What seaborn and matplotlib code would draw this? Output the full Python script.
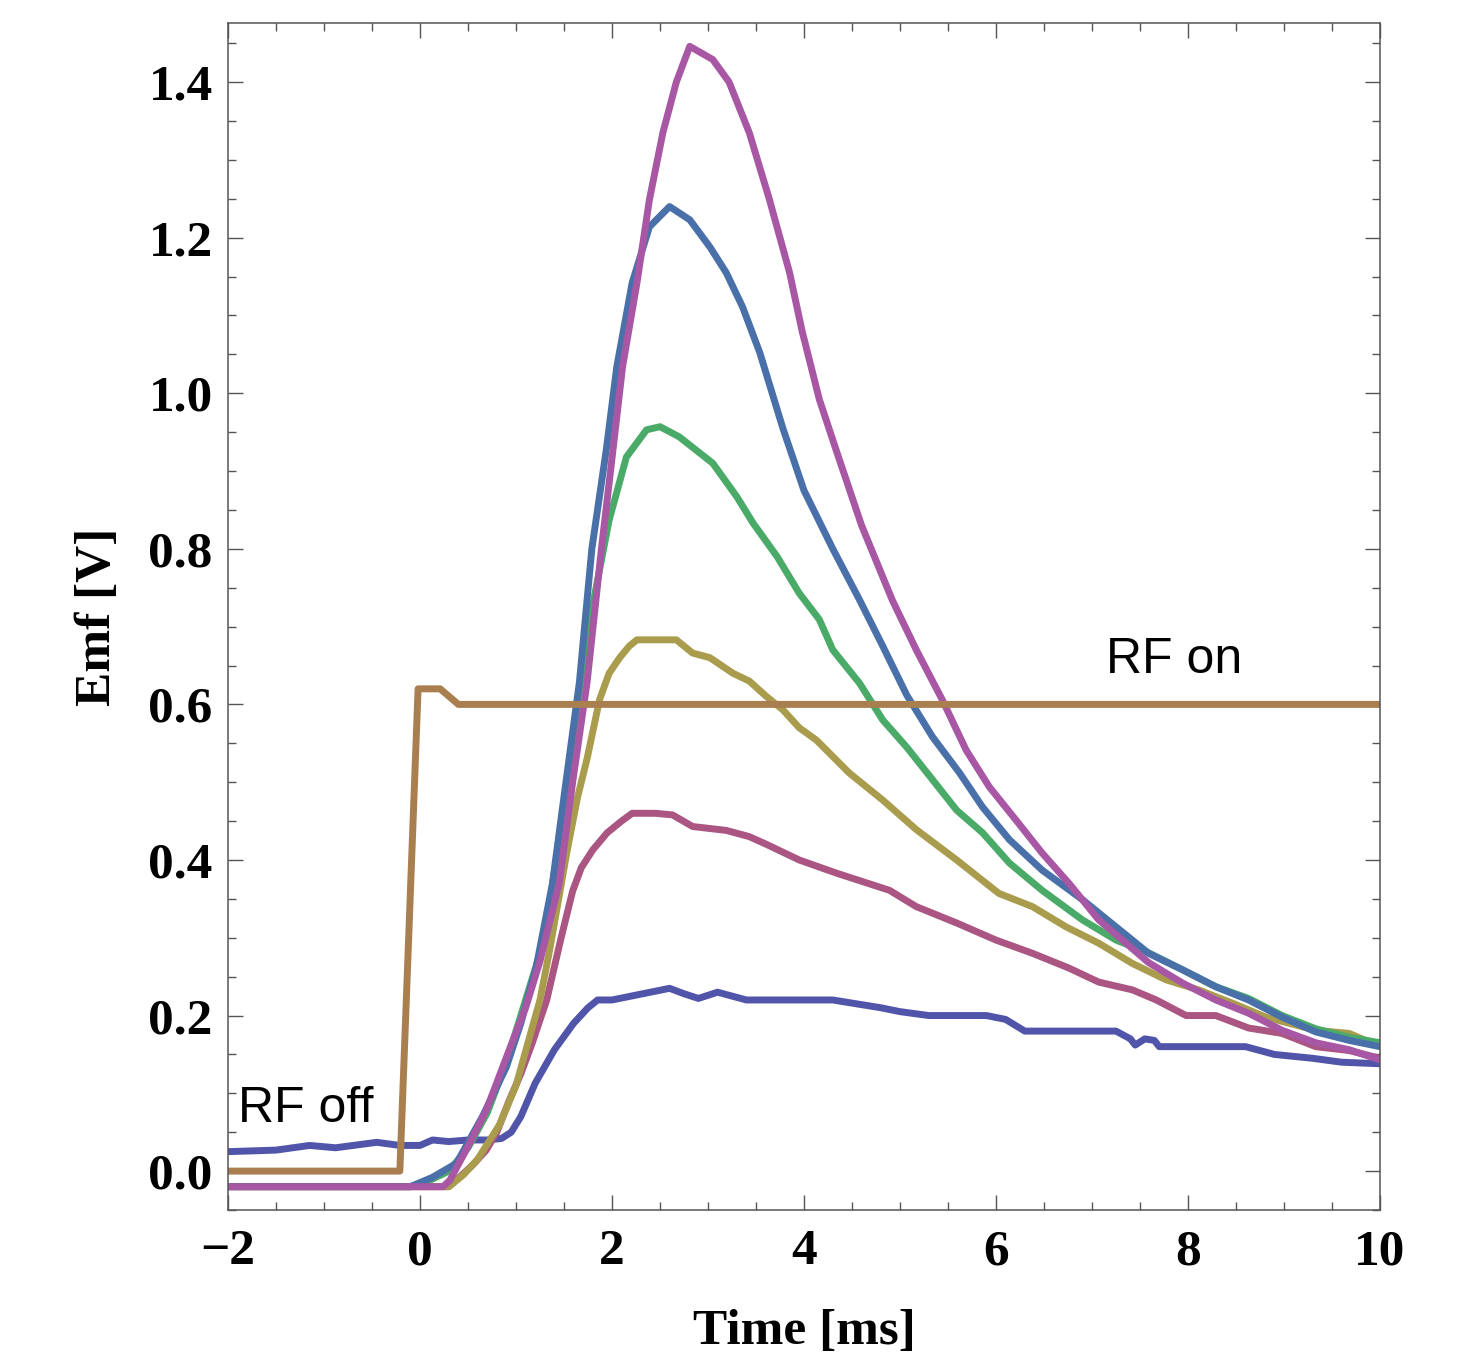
import numpy as np
import pandas as pd
import matplotlib
matplotlib.use("Agg")
import matplotlib.pyplot as plt
import seaborn as sns
from matplotlib.ticker import MultipleLocator, FuncFormatter

# ---------------- data ----------------
s1_x = [-2, -1.5, -1.15, -0.88, -0.45, -0.21, 0.0, 0.13, 0.3, 0.5, 0.7, 0.85, 0.95, 1.05, 1.2, 1.4, 1.6,
        1.75, 1.85, 2.0, 2.2, 2.4, 2.6, 2.75, 2.9, 3.1, 3.4, 4.3, 4.8, 5.0, 5.3, 5.9, 6.1, 6.3, 7.25, 7.4,
        7.45, 7.55, 7.65, 7.7, 8.6, 8.9, 9.3, 9.6, 10.0]
s1_y = [0.025, 0.027, 0.033, 0.030, 0.037, 0.033, 0.033, 0.040, 0.038, 0.040, 0.040, 0.042, 0.050, 0.070,
        0.113, 0.156, 0.190, 0.210, 0.220, 0.220, 0.225, 0.230, 0.235, 0.228, 0.222, 0.230, 0.220, 0.220,
        0.210, 0.205, 0.200, 0.200, 0.195, 0.180, 0.180, 0.170, 0.162, 0.170, 0.168, 0.160, 0.160, 0.150,
        0.145, 0.140, 0.138]

s2_x = [-2, 0.3, 0.41, 0.55, 0.69, 0.8, 0.93, 1.05, 1.17, 1.32, 1.47, 1.59, 1.68, 1.8, 1.95, 2.1, 2.21,
        2.45, 2.63, 2.84, 3.19, 3.43, 3.61, 3.95, 4.34, 4.89, 5.17, 5.59, 6.0, 6.38, 6.76, 7.07, 7.42, 7.67,
        7.98, 8.29, 8.63, 8.98, 9.33, 9.68, 10.0]
s2_y = [-0.02, -0.02, -0.008, 0.008, 0.027, 0.05, 0.091, 0.125, 0.165, 0.22, 0.30, 0.36, 0.39, 0.413,
        0.435, 0.45, 0.46, 0.46, 0.458, 0.443, 0.438, 0.43, 0.42, 0.40, 0.383, 0.361, 0.34, 0.319, 0.297,
        0.28, 0.261, 0.243, 0.233, 0.22, 0.20, 0.20, 0.184, 0.177, 0.16, 0.155, 0.145]

s3_x = [-2, 0.3, 0.45, 0.6, 0.83, 1.0, 1.17, 1.25, 1.35, 1.53, 1.64, 1.74, 1.87, 1.97, 2.08, 2.18, 2.26,
        2.67, 2.84, 3.02, 3.26, 3.43, 3.61, 3.78, 3.95, 4.13, 4.47, 4.82, 5.17, 5.59, 6.03, 6.38, 6.73, 7.07,
        7.42, 7.77, 8.11, 8.46, 8.81, 9.33, 9.68, 10.0]
s3_y = [-0.02, -0.02, -0.005, 0.015, 0.06, 0.11, 0.185, 0.22, 0.284, 0.41, 0.48, 0.53, 0.606, 0.64, 0.66,
        0.675, 0.683, 0.683, 0.666, 0.66, 0.64, 0.63, 0.61, 0.593, 0.57, 0.554, 0.512, 0.477, 0.439, 0.40,
        0.357, 0.34, 0.314, 0.293, 0.267, 0.246, 0.233, 0.216, 0.198, 0.181, 0.177, 0.16]

s4_x = [-2, -0.1, 0.1, 0.3, 0.5, 0.7, 0.9, 1.1, 1.3, 1.5, 1.73, 1.97, 2.15, 2.36, 2.5, 2.7, 3.05, 3.3,
        3.47, 3.72, 3.95, 4.16, 4.3, 4.58, 4.82, 5.07, 5.34, 5.59, 5.86, 6.14, 6.48, 6.9, 7.25, 7.6, 7.94,
        8.29, 8.63, 8.98, 9.33, 9.68, 10.0]
s4_y = [-0.02, -0.02, -0.012, 0.0, 0.03, 0.075, 0.14, 0.22, 0.30, 0.47, 0.683, 0.837, 0.918, 0.953, 0.957,
        0.944, 0.91, 0.867, 0.833, 0.79, 0.743, 0.709, 0.67, 0.627, 0.58, 0.545, 0.503, 0.464, 0.435, 0.396,
        0.361, 0.323, 0.297, 0.28, 0.259, 0.237, 0.222, 0.2, 0.183, 0.172, 0.165]

s5_x = [-2, -0.1, 0.13, 0.38, 0.65, 0.9, 1.05, 1.21, 1.38, 1.52, 1.66, 1.79, 1.94, 2.05, 2.21, 2.39, 2.6,
        2.81, 3.02, 3.19, 3.36, 3.54, 3.78, 4.0, 4.3, 4.58, 4.82, 5.07, 5.34, 5.62, 5.86, 6.14, 6.48, 6.9,
        7.25, 7.59, 7.94, 8.29, 8.63, 8.98, 9.33, 9.68, 10.0]
s5_y = [-0.02, -0.02, -0.008, 0.01, 0.07, 0.134, 0.19, 0.262, 0.37, 0.50, 0.628, 0.80, 0.927, 1.034, 1.142,
        1.214, 1.24, 1.223, 1.188, 1.155, 1.111, 1.052, 0.955, 0.875, 0.80, 0.734, 0.675, 0.612, 0.558, 0.512,
        0.468, 0.426, 0.387, 0.349, 0.314, 0.28, 0.259, 0.237, 0.22, 0.198, 0.179, 0.168, 0.16]

s6_x = [-2, 0.24, 0.31, 0.48, 0.69, 0.93, 1.1, 1.25, 1.45, 1.59, 1.74, 1.89, 2.01, 2.11, 2.26, 2.39, 2.53,
        2.67, 2.81, 3.05, 3.22, 3.43, 3.64, 3.85, 3.98, 4.16, 4.34, 4.6, 4.92, 5.17, 5.44, 5.69, 5.93, 6.21,
        6.48, 6.76, 7.07, 7.59, 7.94, 8.29, 8.63, 8.98, 9.33, 9.68, 10.0]
s6_y = [-0.02, -0.02, -0.012, 0.027, 0.078, 0.156, 0.21, 0.27, 0.37, 0.50, 0.628, 0.80, 0.927, 1.034,
        1.142, 1.249, 1.335, 1.40, 1.446, 1.429, 1.40, 1.335, 1.249, 1.155, 1.08, 0.992, 0.925, 0.83,
        0.734, 0.67, 0.606, 0.541, 0.494, 0.451, 0.409, 0.37, 0.323, 0.268, 0.242, 0.22, 0.203, 0.181,
        0.165, 0.156, 0.143]

rf_x = [-2, -0.21, -0.02, 0.21, 0.40, 10]
rf_y = [0.0, 0.0, 0.62, 0.62, 0.60, 0.60]

series = [
    (s1_x, s1_y, "#5155AA"),
    (s2_x, s2_y, "#AA5582"),
    (s3_x, s3_y, "#A99C4C"),
    (s4_x, s4_y, "#4AAA68"),
    (s5_x, s5_y, "#4A70AA"),
    (s6_x, s6_y, "#A857A4"),
    (rf_x, rf_y, "#A97F4F"),
]

x_ticks = [-2, 0, 2, 4, 6, 8, 10]
y_ticks = [0.0, 0.2, 0.4, 0.6, 0.8, 1.0, 1.2, 1.4]
x_label = "Time [ms]"
y_label = "Emf [V]"
annotations = [("RF off", -1.9, 0.063), ("RF on", 7.15, 0.64)]

# ---------------- plotting ----------------
sns.set_theme(style="ticks")
plt.rcParams["font.family"] = ["Liberation Serif", "DejaVu Serif"]
plt.rcParams["text.color"] = "black"
plt.rcParams["axes.labelcolor"] = "black"
plt.rcParams["xtick.labelcolor"] = "black"
plt.rcParams["ytick.labelcolor"] = "black"

fig = plt.figure(figsize=(14.68, 13.52), dpi=100)
ax = fig.add_axes([228 / 1468, 1 - 1210 / 1352, 1152 / 1468, 1187 / 1352])

for xs, ys, col in series:
    df = pd.DataFrame({"x": xs, "y": ys})
    sns.lineplot(data=df, x="x", y="y", ax=ax, color=col, linewidth=5.0,
                 estimator=None, sort=False, legend=False)

ax.set_xlim(-2, 10)
ax.set_ylim(-0.050, 1.476)

ax.xaxis.set_major_locator(MultipleLocator(2))
ax.xaxis.set_minor_locator(MultipleLocator(0.5))
ax.yaxis.set_major_locator(MultipleLocator(0.2))
ax.yaxis.set_minor_locator(MultipleLocator(0.05))
ax.set_xticks(x_ticks)
ax.set_yticks(y_ticks)
ax.xaxis.set_major_formatter(FuncFormatter(lambda v, p: ("\u2212%d" % abs(v)) if v < 0 else "%d" % v))
ax.yaxis.set_major_formatter(FuncFormatter(lambda v, p: "%.1f" % v))

for sp in ax.spines.values():
    sp.set_visible(True)
    sp.set_color("#555555")
    sp.set_linewidth(1.1)

ax.tick_params(which="both", direction="in", top=True, right=True, color="#555555", width=1.0,
               labelcolor="black")
ax.tick_params(which="major", length=11)
ax.tick_params(which="minor", length=6)
ax.tick_params(axis="y", which="major", pad=11)
ax.tick_params(axis="x", which="major", pad=14)

for lab in ax.get_xticklabels() + ax.get_yticklabels():
    lab.set_fontsize(37)
    lab.set_fontweight("bold")
    lab.set_color("black")
    lab.set_fontfamily(["Liberation Serif", "DejaVu Serif"])

ax.set_xlabel(x_label, fontsize=37, fontweight="bold", labelpad=24, color="black")
ax.set_ylabel(y_label, fontsize=37, fontweight="bold", labelpad=20, color="black")

for txt, tx, ty in annotations:
    ax.text(tx, ty, txt, fontsize=36, family=["Liberation Sans", "DejaVu Sans"],
            color="black", ha="left", va="baseline")

fig.savefig("out.png", dpi=100, facecolor="white")
